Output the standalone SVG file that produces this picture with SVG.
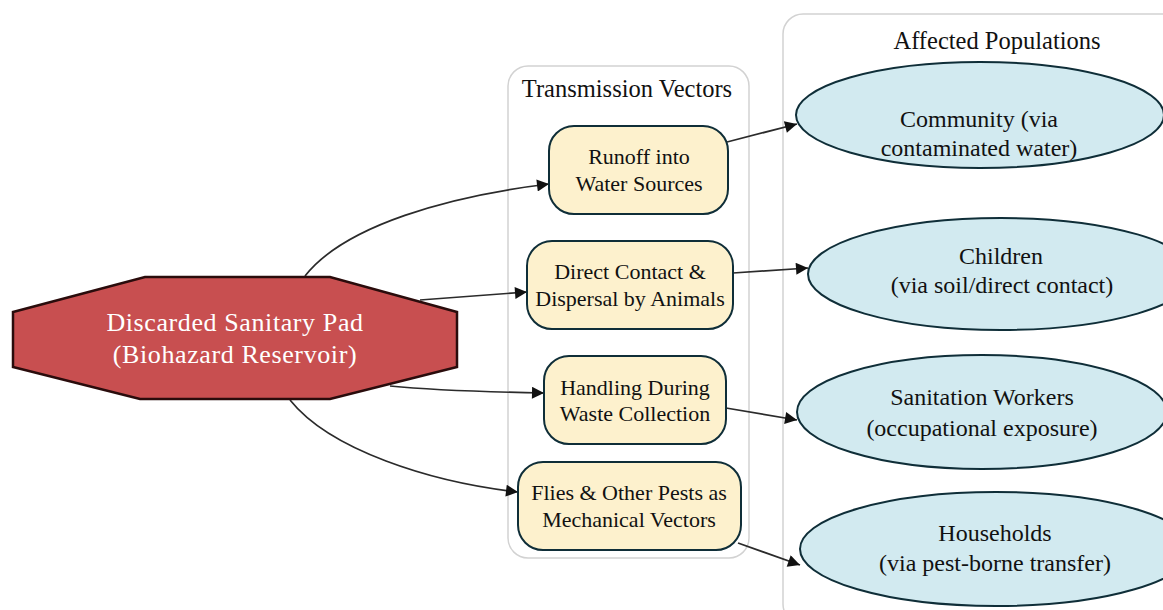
<svg xmlns="http://www.w3.org/2000/svg" width="1163" height="610" viewBox="0 0 1163 610">
<defs>
<marker id="arr" viewBox="0 0 10 10" refX="10" refY="5" markerWidth="17" markerHeight="12" markerUnits="userSpaceOnUse" orient="auto">
<path d="M0,0 L10,5 L0,10 z" fill="#111"/>
</marker>
<style>
text{font-family:"Liberation Serif","Times New Roman",serif;text-anchor:middle;fill:#111}
.cl{fill:#fff;stroke:#d2d2d2;stroke-width:1.5}
.ct{font-size:24.5px}
.vec{fill:#fdf1cd;stroke:#0f2e38;stroke-width:2}
.vt{font-size:22px}
.pop{fill:#d2eaf0;stroke:#0f2e38;stroke-width:2}
.pt{font-size:24px}
.st{font-size:26px;letter-spacing:0.6px}
.e{fill:none;stroke:#2b2b2b;stroke-width:1.7;marker-end:url(#arr)}
</style>
</defs>
<rect width="1163" height="610" fill="#fff"/>
<g id="cluster_vectors">
<rect class="cl" x="508" y="66" width="241" height="492" rx="20"/>
<text class="ct" x="627" y="97">Transmission Vectors</text>
</g>
<g id="cluster_populations">
<rect class="cl" x="783" y="14" width="400" height="610" rx="20"/>
<text class="ct" x="997" y="49">Affected Populations</text>
</g>
<g id="connectors">
<path class="e" d="M305,276 C345,225 450,196 549,184"/>
<path class="e" d="M420,300 L527,292"/>
<path class="e" d="M390,386 C430,390 490,392 544,393"/>
<path class="e" d="M290,400 C330,450 430,482 518,492"/>
<path class="e" d="M727,142 L797,124"/>
<path class="e" d="M733,273 L808,268"/>
<path class="e" d="M726,408 L797,420"/>
<path class="e" d="M738,543 L800,565"/>
</g>
<g id="source">
<polygon points="145,277 330,277 457,312 457,367 330,399 140,399 13,367 13,312" fill="#c84f50" stroke="#2a0c0c" stroke-width="2.5"/>
<text class="st" x="235" y="331" style="fill:#fff">Discarded Sanitary Pad</text>
<text class="st" x="235" y="363" style="fill:#fff">(Biohazard Reservoir)</text>
</g>
<g id="runoff">
<rect class="vec" x="549" y="126" width="179" height="88" rx="25"/>
<text class="vt" x="639" y="164">Runoff into</text>
<text class="vt" x="639" y="191">Water Sources</text>
</g>
<g id="direct">
<rect class="vec" x="527" y="241" width="206" height="88" rx="25"/>
<text class="vt" x="630" y="279">Direct Contact &amp;</text>
<text class="vt" x="630" y="306">Dispersal by Animals</text>
</g>
<g id="handling">
<rect class="vec" x="544" y="356" width="182" height="88" rx="25"/>
<text class="vt" x="635" y="395">Handling During</text>
<text class="vt" x="635" y="421">Waste Collection</text>
</g>
<g id="flies">
<rect class="vec" x="518" y="462" width="223" height="88" rx="25"/>
<text class="vt" x="629" y="500">Flies &amp; Other Pests as</text>
<text class="vt" x="629" y="527">Mechanical Vectors</text>
</g>
<g id="community">
<ellipse class="pop" cx="980" cy="115" rx="184" ry="53"/>
<text class="pt" x="979" y="127">Community (via</text>
<text class="pt" x="979" y="156">contaminated water)</text>
</g>
<g id="children">
<ellipse class="pop" cx="1001" cy="274" rx="193" ry="56"/>
<text class="pt" x="1001" y="264">Children</text>
<text class="pt" x="1002" y="293">(via soil/direct contact)</text>
</g>
<g id="workers">
<ellipse class="pop" cx="982" cy="412" rx="185" ry="57"/>
<text class="pt" x="982" y="405">Sanitation Workers</text>
<text class="pt" x="982" y="436">(occupational exposure)</text>
</g>
<g id="households">
<ellipse class="pop" cx="996" cy="549" rx="196" ry="57"/>
<text class="pt" x="995" y="541">Households</text>
<text class="pt" x="995" y="571">(via pest-borne transfer)</text>
</g>
</svg>
